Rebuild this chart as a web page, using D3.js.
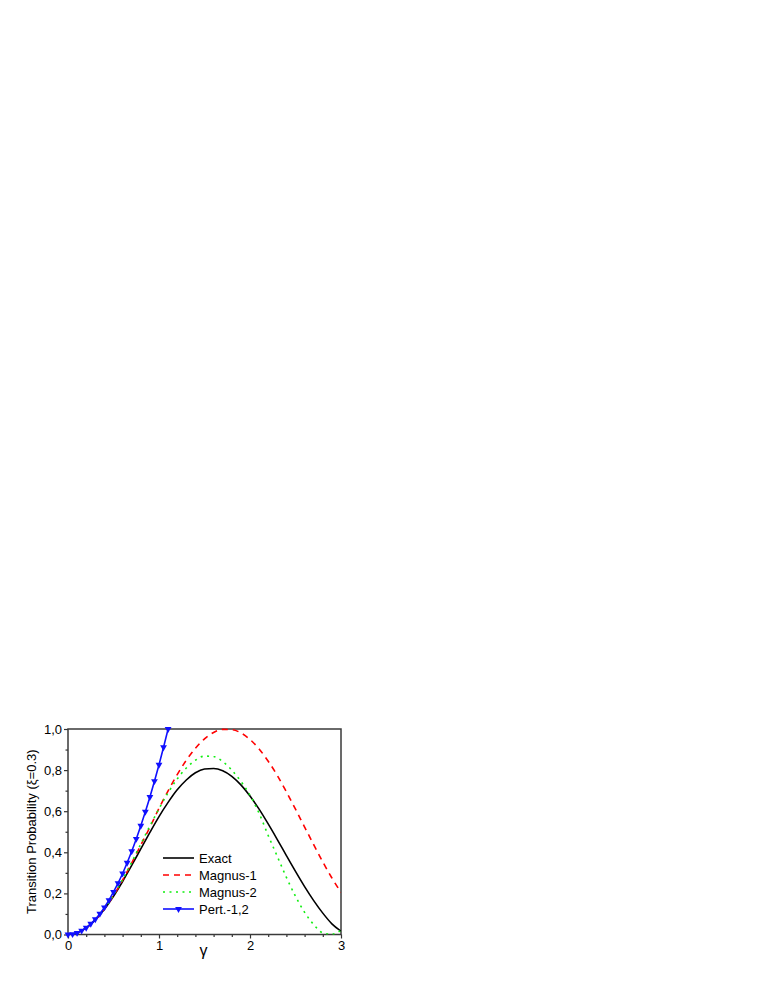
<!DOCTYPE html>
<html>
<head>
<meta charset="utf-8">
<script src="https://cdn.jsdelivr.net/npm/d3@7"></script>
<style>
  html, body { margin: 0; padding: 0; background: #fff; }
  svg { display: block; }
  text { font-family: Arial, "Liberation Sans", sans-serif; fill: #000; }
</style>
</head>
<body>
<svg id="chart" width="763" height="987"></svg>
<script>
// values
var gammaGrid = [0, 0.1, 0.2, 0.3, 0.4, 0.5, 0.6, 0.7, 0.8, 0.9, 1.0, 1.1, 1.2, 1.3, 1.4, 1.5,
                 1.6, 1.7, 1.8, 1.9, 2.0, 2.1, 2.2, 2.3, 2.4, 2.5, 2.6, 2.7, 2.8, 2.9, 3.0];
var exactP   = [0, 0.008, 0.032, 0.071, 0.123, 0.186, 0.258, 0.336, 0.417, 0.497, 0.574, 0.643, 0.704, 0.752, 0.787, 0.805,
                0.808, 0.797, 0.770, 0.728, 0.674, 0.610, 0.538, 0.462, 0.384, 0.307, 0.233, 0.165, 0.104, 0.052, 0.016];
var magnus1P = [0, 0.008, 0.032, 0.071, 0.124, 0.189, 0.265, 0.348, 0.435, 0.522, 0.614, 0.699, 0.778, 0.848, 0.906, 0.952,
                0.983, 0.998, 0.997, 0.981, 0.949, 0.903, 0.843, 0.774, 0.694, 0.610, 0.523, 0.437, 0.353, 0.275, 0.205];
var magnus2P = [0, 0.008, 0.032, 0.072, 0.126, 0.192, 0.268, 0.352, 0.440, 0.528, 0.612, 0.690, 0.757, 0.810, 0.848, 0.868,
                0.866, 0.842, 0.800, 0.745, 0.678, 0.590, 0.482, 0.380, 0.278, 0.186, 0.108, 0.048, 0.008, 0.001, 0.020];
var pertGamma = [0, 0.05, 0.10, 0.15, 0.20, 0.25, 0.30, 0.35, 0.40, 0.45, 0.50, 0.55,
                 0.60, 0.65, 0.70, 0.75, 0.80, 0.85, 0.90, 0.95, 1.00, 1.05, 1.10];
var pertP     = [0, 0.002, 0.008, 0.019, 0.033, 0.052, 0.074, 0.101, 0.132, 0.167, 0.207, 0.250,
                 0.297, 0.349, 0.405, 0.465, 0.529, 0.597, 0.669, 0.746, 0.826, 0.911, 1.000];

var xTicks = [0, 1, 2, 3];
var xTickLabels = ["0", "1", "2", "3"];
var yTicks = [0, 0.2, 0.4, 0.6, 0.8, 1.0];
var yTickLabels = ["0,0", "0,2", "0,4", "0,6", "0,8", "1,0"];
var seriesNames = ["Exact", "Magnus-1", "Magnus-2", "Pert.-1,2"];

var plotLeft = 68, plotRight = 341, plotTop = 729, plotBottom = 934.5;
var svg = d3.select("#chart");

var x = d3.scaleLinear().domain([0, 3]).range([plotLeft, plotRight]);
var y = d3.scaleLinear().domain([0, 1]).range([plotBottom, plotTop]);

svg.append("defs").append("clipPath").attr("id", "plotClip")
  .append("rect")
  .attr("x", plotLeft).attr("y", plotTop - 1)
  .attr("width", plotRight - plotLeft).attr("height", plotBottom - plotTop + 1);

// axes (bottom / left with labels, outward ticks)
var xAxis = d3.axisBottom(x)
  .tickValues(xTicks)
  .tickFormat(function(d, i) { return xTickLabels[i]; })
  .tickSize(4).tickPadding(2);
var xMinor = d3.axisBottom(x)
  .tickValues([0.2, 0.4, 0.6, 0.8, 1.2, 1.4, 1.6, 1.8, 2.2, 2.4, 2.6, 2.8])
  .tickFormat("").tickSize(2.5);
var yAxis = d3.axisLeft(y)
  .tickValues(yTicks)
  .tickFormat(function(d, i) { return yTickLabels[i]; })
  .tickSize(4).tickPadding(2);
var yMinor = d3.axisLeft(y)
  .tickValues([0.1, 0.3, 0.5, 0.7, 0.9])
  .tickFormat("").tickSize(2.5);

function styleAxis(g) {
  g.select(".domain").remove();
  g.selectAll("line").attr("stroke", "#333").attr("stroke-width", 1.2);
  g.selectAll("text").style("font-size", "13px").attr("fill", "#000");
}

svg.append("g").attr("transform", "translate(0," + plotBottom + ")").call(xAxis).call(styleAxis);
svg.append("g").attr("transform", "translate(0," + plotBottom + ")").call(xMinor).call(styleAxis);
svg.append("g").attr("transform", "translate(" + plotLeft + ",0)").call(yAxis).call(styleAxis);
svg.append("g").attr("transform", "translate(" + plotLeft + ",0)").call(yMinor).call(styleAxis);

// frame
svg.append("rect")
  .attr("x", plotLeft).attr("y", plotTop)
  .attr("width", plotRight - plotLeft).attr("height", plotBottom - plotTop)
  .attr("fill", "none").attr("stroke", "#3a3a3a").attr("stroke-width", 1.5);

// axis titles
svg.append("text")
  .attr("x", (plotLeft + plotRight) / 2 - 1).attr("y", 956)
  .attr("text-anchor", "middle")
  .style("font-size", "16px")
  .text("γ");
svg.append("text")
  .attr("transform", "translate(36," + ((plotTop + plotBottom) / 2) + ") rotate(-90)")
  .attr("text-anchor", "middle")
  .style("font-size", "13px")
  .text("Transition Probability (ξ=0.3)");

// curves
var line = d3.line()
  .x(function(d) { return x(d[0]); })
  .y(function(d) { return y(d[1]); })
  .curve(d3.curveMonotoneX);

function pairs(xs, ys) { return xs.map(function(v, i) { return [v, ys[i]]; }); }

var plot = svg.append("g").attr("clip-path", "url(#plotClip)");

var styles = [
  { data: pairs(gammaGrid, exactP),   color: "#000000", dash: null },
  { data: pairs(gammaGrid, magnus1P), color: "#ff0000", dash: "6,5" },
  { data: pairs(gammaGrid, magnus2P), color: "#11ee11", dash: "2,4.5" },
  { data: pairs(pertGamma, pertP),    color: "#1010ff", dash: null }
];

styles.forEach(function(s) {
  plot.append("path")
    .datum(s.data)
    .attr("d", line)
    .attr("fill", "none")
    .attr("stroke", s.color)
    .attr("stroke-width", 1.6)
    .attr("stroke-dasharray", s.dash);
});

var tri = d3.symbol().type(d3.symbolTriangle).size(20);
svg.append("g")
  .selectAll("path.marker")
  .data(pairs(pertGamma, pertP))
  .enter()
  .append("path")
  .classed("marker", true)
  .attr("d", tri)
  .attr("transform", function(d) { return "translate(" + x(d[0]) + "," + y(d[1]) + ") rotate(180)"; })
  .attr("fill", "#1010ff");

// legend
var legend = svg.append("g");
var legendY = [858, 875, 892, 909];
seriesNames.forEach(function(name, i) {
  var s = styles[i];
  legend.append("line")
    .attr("x1", 163).attr("x2", 194)
    .attr("y1", legendY[i]).attr("y2", legendY[i])
    .attr("stroke", s.color)
    .attr("stroke-width", 1.6)
    .attr("stroke-dasharray", s.dash);
  legend.append("text")
    .attr("x", 199).attr("y", legendY[i])
    .attr("dy", "0.35em")
    .style("font-size", "13px")
    .text(name);
});
legend.append("path")
  .attr("d", tri)
  .attr("transform", "translate(178.5," + legendY[3] + ") rotate(180)")
  .attr("fill", "#1010ff");
</script>
</body>
</html>
